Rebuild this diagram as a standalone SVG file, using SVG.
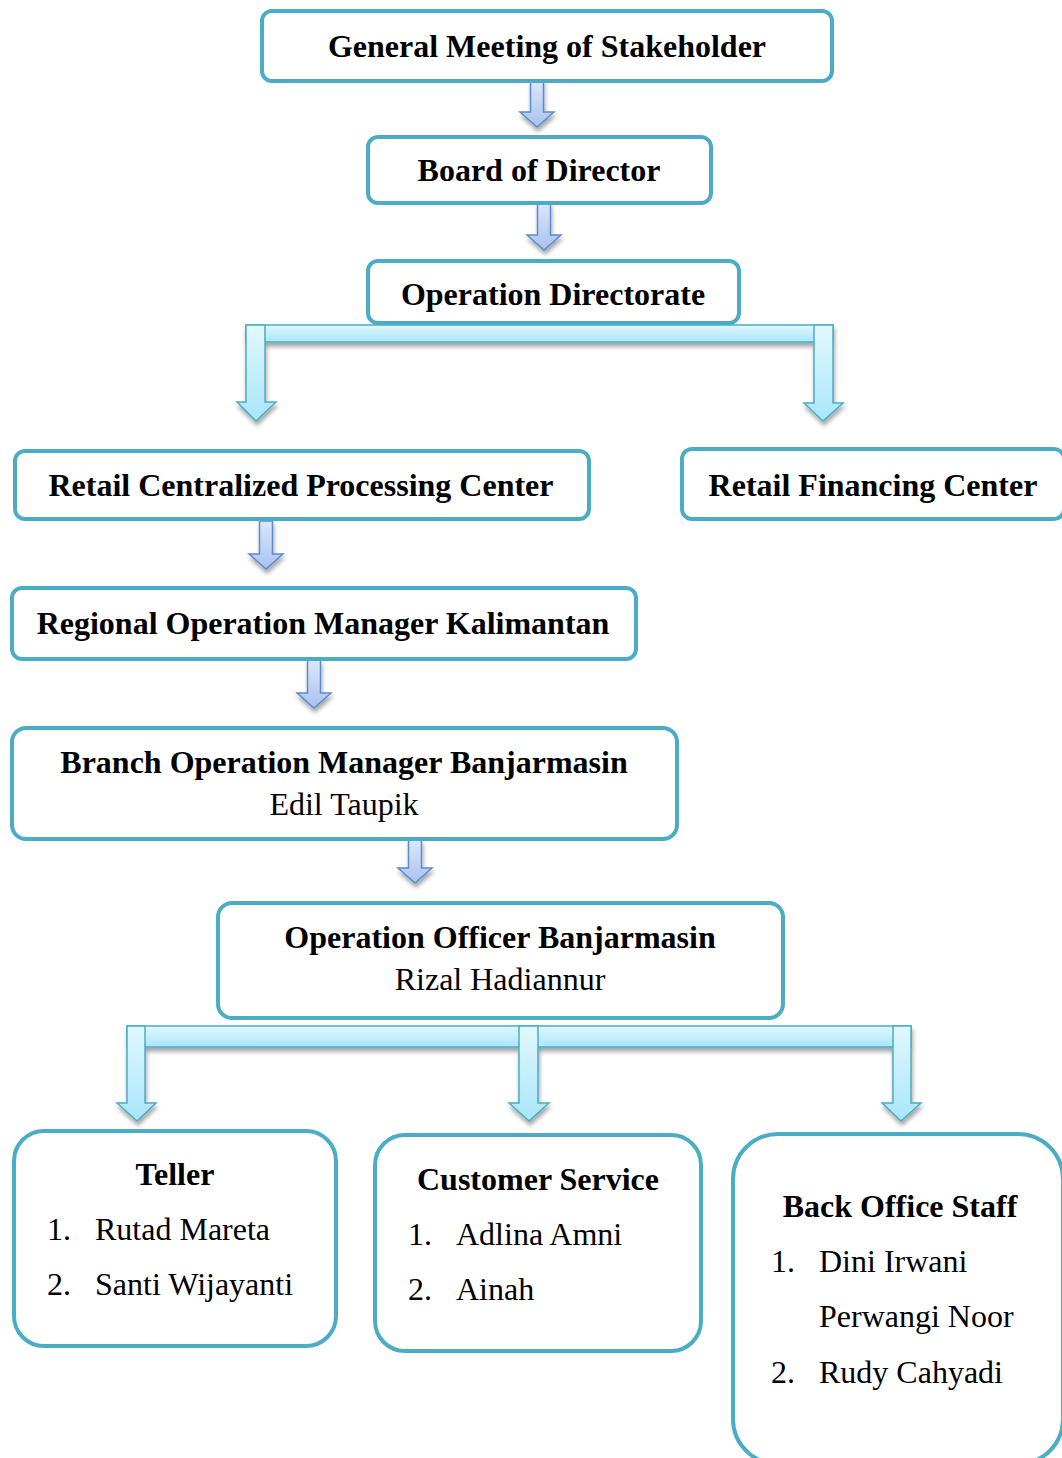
<svg xmlns="http://www.w3.org/2000/svg" width="1062" height="1458" viewBox="0 0 1062 1458">
<style>
.box{fill:#fff;stroke:#4BACC6;stroke-width:4}
.t{font-family:"Liberation Serif","Times New Roman",serif;font-size:32px;font-weight:bold;fill:#000;text-anchor:middle}
.n{font-family:"Liberation Serif","Times New Roman",serif;font-size:32px;fill:#000}
.nc{text-anchor:middle}
.big{fill:url(#gCyan);stroke:#4BACC6;stroke-width:1.5}
.sm{fill:url(#gBlue);stroke:#5B8BD0;stroke-width:1.5}
</style>
<defs>
<linearGradient id="gCyan" x1="0" y1="0" x2="0" y2="1">
<stop offset="0" stop-color="#E2F8FF"/>
<stop offset="1" stop-color="#A8E6FA"/>
</linearGradient>
<linearGradient id="gBlue" x1="0" y1="0" x2="0" y2="1">
<stop offset="0" stop-color="#DCE7FA"/>
<stop offset="1" stop-color="#A9C2F0"/>
</linearGradient>
<filter id="sh" x="-30%" y="-30%" width="160%" height="160%">
<feDropShadow dx="1" dy="4" stdDeviation="2" flood-color="#000" flood-opacity="0.35"/>
</filter>
</defs>

<g id="connectors">
<g filter="url(#sh)">
<path class="sm" d="M530.5,80 H543.5 V112 H554 L537,127 L520,112 H530.5 Z"/>
<path class="sm" d="M537.5,203 H550.5 V235 H561 L544,250 L527,235 H537.5 Z"/>
<path class="sm" d="M259.5,521 H272.5 V554 H283 L266,569 L249,554 H259.5 Z"/>
<path class="sm" d="M307.5,660 H320.5 V693 H331 L314,708 L297,693 H307.5 Z"/>
<path class="sm" d="M408.5,840 H421.5 V868 H432 L415,883 L398,868 H408.5 Z"/>
</g>
<g filter="url(#sh)">
<rect class="big" x="246" y="325" width="587" height="17"/>
<path class="big" d="M246,325 H265 V402 H276 L256,421 L237,402 H246 Z"/>
<path class="big" d="M814,325 H833 V403 H843 L823,421 L804,403 H814 Z"/>
</g>
<g filter="url(#sh)">
<rect class="big" x="127" y="1026" width="784" height="21"/>
<path class="big" d="M127,1026 H145 V1103 H156 L137,1121 L117,1103 H127 Z"/>
<path class="big" d="M519,1026 H538 V1103 H549 L529,1121 L509,1103 H519 Z"/>
<path class="big" d="M893,1026 H911 V1103 H921 L901,1121 L882,1103 H893 Z"/>
</g>
</g>

<g id="gms">
<rect class="box" x="262" y="11" width="570" height="70" rx="10"/>
<text class="t" x="547" y="57">General Meeting of Stakeholder</text>
</g>
<g id="bod">
<rect class="box" x="368" y="137" width="343" height="66" rx="10"/>
<text class="t" x="539" y="181">Board of Director</text>
</g>
<g id="opdir">
<rect class="box" x="368" y="261" width="371" height="62" rx="10"/>
<text class="t" x="553" y="305">Operation Directorate</text>
</g>
<g id="rcpc">
<rect class="box" x="15" y="451" width="574" height="68" rx="10"/>
<text class="t" x="301" y="496">Retail Centralized Processing Center</text>
</g>
<g id="rfc">
<rect class="box" x="682" y="449" width="382" height="70" rx="10"/>
<text class="t" x="873" y="496">Retail Financing Center</text>
</g>
<g id="rom">
<rect class="box" x="12" y="588" width="624" height="71" rx="10"/>
<text class="t" x="323" y="634">Regional Operation Manager Kalimantan</text>
</g>
<g id="bom">
<rect class="box" x="12" y="728" width="665" height="111" rx="14"/>
<text class="t" x="344" y="773">Branch Operation Manager Banjarmasin</text>
<text class="n nc" x="344" y="815">Edil Taupik</text>
</g>
<g id="oob">
<rect class="box" x="218" y="903" width="565" height="115" rx="14"/>
<text class="t" x="500" y="948">Operation Officer Banjarmasin</text>
<text class="n nc" x="500" y="990">Rizal Hadiannur</text>
</g>
<g id="teller">
<rect class="box" x="14" y="1131" width="322" height="215" rx="30"/>
<text class="t" x="175" y="1185">Teller</text>
<text class="n" x="47" y="1240">1.</text>
<text class="n" x="95" y="1240">Rutad Mareta</text>
<text class="n" x="47" y="1295">2.</text>
<text class="n" x="95" y="1295">Santi Wijayanti</text>
</g>
<g id="cs">
<rect class="box" x="375" y="1135" width="326" height="216" rx="30"/>
<text class="t" x="538" y="1190">Customer Service</text>
<text class="n" x="408" y="1245">1.</text>
<text class="n" x="456" y="1245">Adlina Amni</text>
<text class="n" x="408" y="1300">2.</text>
<text class="n" x="456" y="1300">Ainah</text>
</g>
<g id="bos">
<rect class="box" x="733" y="1134" width="330" height="330" rx="45"/>
<text class="t" x="900" y="1217">Back Office Staff</text>
<text class="n" x="771" y="1272">1.</text>
<text class="n" x="819" y="1272">Dini Irwani</text>
<text class="n" x="819" y="1327">Perwangi Noor</text>
<text class="n" x="771" y="1383">2.</text>
<text class="n" x="819" y="1383">Rudy Cahyadi</text>
</g>
</svg>
